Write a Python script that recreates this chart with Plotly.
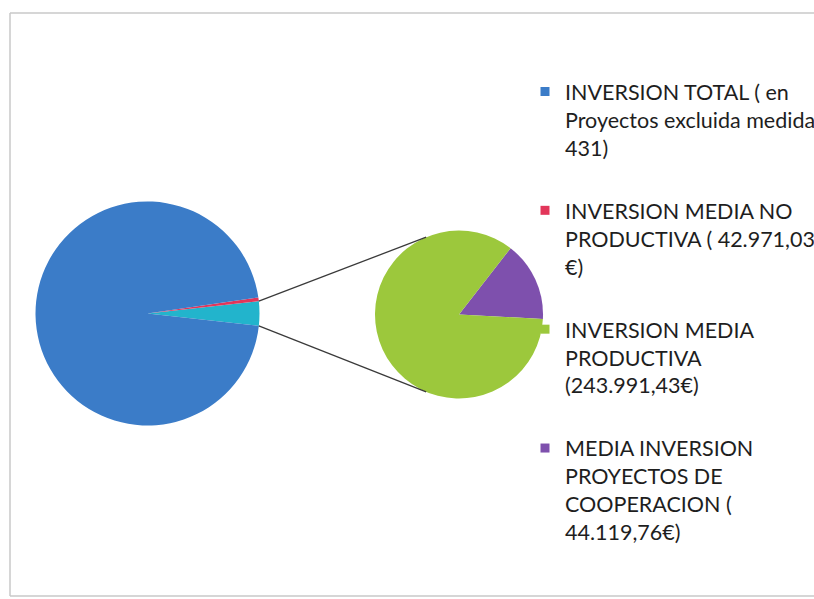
import math
import plotly.graph_objects as go

# ---------------- data ----------------
legend_names = [
    "INVERSION TOTAL ( en<br>Proyectos excluida medida<br>431)",
    "INVERSION MEDIA NO<br>PRODUCTIVA ( 42.971,03<br>€)",
    "INVERSION MEDIA<br>PRODUCTIVA<br>(243.991,43€)",
    "MEDIA INVERSION<br>PROYECTOS DE<br>COOPERACION (<br>44.119,76€)",
]
inversion_total = 7830000.0          # (no value printed)
inversion_no_productiva = 42971.03
inversion_productiva = 243991.43
inversion_cooperacion = 44119.76

colors = ["#3b7cc8", "#e2365a", "#9cc83c", "#7e50ad"]
other_color = "#22b4cc"

# ---------------- geometry (window pixels) ----------------
W, H = 840, 599              # figure extends a little past the right window edge
main_c, main_r = (147.5, 313.5), 112
sec_c, sec_r = (459.0, 314.5), 84


def px(x):
    return x / W


def py(y):
    return 1 - y / H


def domain(c, r):
    return dict(x=[px(c[0] - r), px(c[0] + r)], y=[py(c[1] + r), py(c[1] - r)])


other = inversion_productiva + inversion_cooperacion
main_vals = [other, inversion_no_productiva, inversion_total]
main_total = sum(main_vals)
other_deg = other / main_total * 360
sec_vals = [inversion_cooperacion, inversion_productiva]
coop_deg = inversion_cooperacion / sum(sec_vals) * 360

fig = go.Figure()
fig.add_trace(go.Pie(
    values=main_vals,
    labels=["Otro", legend_names[1], legend_names[0]],
    marker=dict(colors=[other_color, colors[1], colors[0]], line=dict(width=0)),
    sort=False, direction="counterclockwise", rotation=90 - other_deg / 2,
    textinfo="none", hoverinfo="label+value", showlegend=False,
    domain=domain(main_c, main_r),
))
fig.add_trace(go.Pie(
    values=sec_vals,
    labels=[legend_names[3], legend_names[2]],
    marker=dict(colors=[colors[3], colors[2]], line=dict(width=0)),
    sort=False, direction="counterclockwise", rotation=93 - coop_deg,
    textinfo="none", hoverinfo="label+value", showlegend=False,
    domain=domain(sec_c, sec_r),
))

# legend entries
for i, (name, col) in enumerate(zip(legend_names, colors)):
    fig.add_trace(go.Scatter(
        x=[None], y=[None], mode="markers", name=name,
        marker=dict(symbol="square", size=9, color=col),
        legendgroup=f"g{i}", showlegend=True,
    ))

# connector lines
h = math.radians(other_deg / 2)
spread = math.radians(67)
shapes = []
for s in (1, -1):
    x0 = main_c[0] + main_r * math.cos(h)
    y0 = main_c[1] - s * main_r * math.sin(h)
    a = math.pi - s * spread
    x1 = sec_c[0] + sec_r * math.cos(a)
    y1 = sec_c[1] - sec_r * math.sin(a)
    shapes.append(dict(type="line", xref="paper", yref="paper",
                       x0=px(x0), y0=py(y0), x1=px(x1), y1=py(y1),
                       line=dict(color="#3a3a3a", width=1.3)))
# chart frame (top, left, bottom edges; right edge lies outside the window)
frame = dict(type="line", xref="paper", yref="paper", layer="below",
             line=dict(color="#c8c8c8", width=1.5))
shapes.append({**frame, "x0": px(10), "y0": py(13), "x1": 1, "y1": py(13)})
shapes.append({**frame, "x0": px(10), "y0": py(13), "x1": px(10), "y1": py(596)})
shapes.append({**frame, "x0": px(10), "y0": py(596), "x1": 1, "y1": py(596)})

fig.update_layout(
    width=W, height=H,
    margin=dict(l=0, r=0, t=0, b=0),
    paper_bgcolor="white", plot_bgcolor="white",
    xaxis=dict(visible=False), yaxis=dict(visible=False),
    shapes=shapes,
    legend=dict(
        x=px(525), y=py(71), xanchor="left", yanchor="top",
        font=dict(family="Lato", size=21.5, color="#1e1e1e"),
        tracegroupgap=32, valign="top", bgcolor="rgba(0,0,0,0)",
        itemclick=False, itemdoubleclick=False,
    ),
    showlegend=True,
)

fig.write_html(
    "out.html",
    config={"displayModeBar": False},
    post_script=(
        "document.body.style.margin='0';"
        "document.body.style.overflow='hidden';"
        "document.documentElement.style.overflow='hidden';"
    ),
)
